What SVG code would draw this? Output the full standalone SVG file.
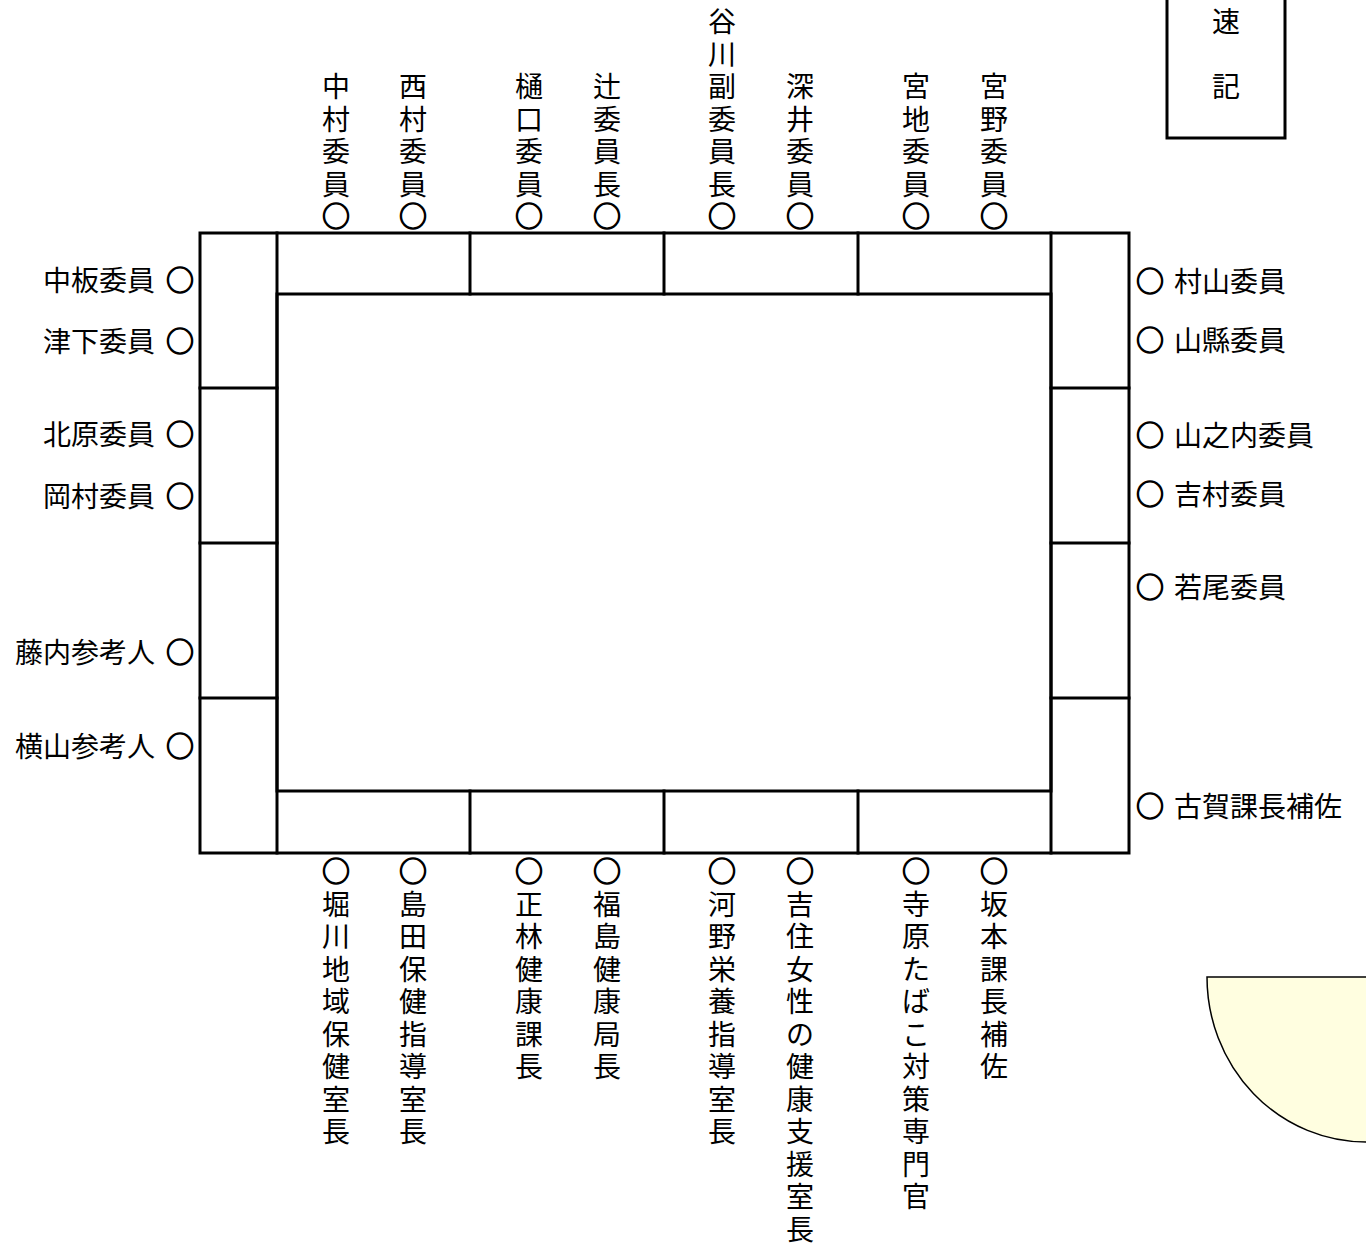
<svg xmlns="http://www.w3.org/2000/svg" width="1366" height="1245" viewBox="0 0 1366 1245">
<style>
text{font-family:"Noto Sans CJK JP","Noto Sans CJK SC",sans-serif;font-size:28px;fill:#000}
.v{text-anchor:middle}
.e{text-anchor:end}
.s{text-anchor:start}
.o{stroke:#000;stroke-width:1.2}
.ln{stroke:#000;stroke-width:3;fill:none;stroke-linecap:square}
</style>
<rect width="1366" height="1245" fill="#fff"/>
<g id="table" class="ln">
<rect x="200" y="233" width="929" height="620"/>
<rect x="277" y="294" width="774" height="497"/>
<line x1="277" y1="233" x2="277" y2="853"/>
<line x1="1051" y1="233" x2="1051" y2="853"/>
<line x1="470" y1="233" x2="470" y2="294"/>
<line x1="664" y1="233" x2="664" y2="294"/>
<line x1="858" y1="233" x2="858" y2="294"/>
<line x1="470" y1="791" x2="470" y2="853"/>
<line x1="664" y1="791" x2="664" y2="853"/>
<line x1="858" y1="791" x2="858" y2="853"/>
<line x1="200" y1="388" x2="277" y2="388"/>
<line x1="200" y1="543" x2="277" y2="543"/>
<line x1="200" y1="698" x2="277" y2="698"/>
<line x1="1051" y1="388" x2="1129" y2="388"/>
<line x1="1051" y1="543" x2="1129" y2="543"/>
<line x1="1051" y1="698" x2="1129" y2="698"/>
</g>
<g id="sokki">
<rect x="1167" y="-10" width="118" height="148" class="ln"/>
<text class="v" x="1226" y="32">速</text>
<text class="v" x="1226" y="97">記</text>
</g>
<g id="podium">
<path d="M1366,977 L1207,977 A159,165 0 0 0 1366,1142" fill="#FFFEE0" stroke="#000" stroke-width="1.5"/>
</g>
<g id="connectors"></g>
<!-- top row -->
<g id="p-nakamura"><text class="v" x="336" y="97"><tspan x="336">中</tspan><tspan x="336" dy="32.5">村</tspan><tspan x="336" dy="32.5">委</tspan><tspan x="336" dy="32.5">員</tspan><tspan x="336" dy="32.5" class="o">○</tspan></text></g>
<g id="p-nishimura"><text class="v" x="413" y="97"><tspan x="413">西</tspan><tspan x="413" dy="32.5">村</tspan><tspan x="413" dy="32.5">委</tspan><tspan x="413" dy="32.5">員</tspan><tspan x="413" dy="32.5" class="o">○</tspan></text></g>
<g id="p-higuchi"><text class="v" x="529" y="97"><tspan x="529">樋</tspan><tspan x="529" dy="32.5">口</tspan><tspan x="529" dy="32.5">委</tspan><tspan x="529" dy="32.5">員</tspan><tspan x="529" dy="32.5" class="o">○</tspan></text></g>
<g id="p-tsuji"><text class="v" x="607" y="97"><tspan x="607">辻</tspan><tspan x="607" dy="32.5">委</tspan><tspan x="607" dy="32.5">員</tspan><tspan x="607" dy="32.5">長</tspan><tspan x="607" dy="32.5" class="o">○</tspan></text></g>
<g id="p-tanigawa"><text class="v" x="722" y="32"><tspan x="722">谷</tspan><tspan x="722" dy="32.5">川</tspan><tspan x="722" dy="32.5">副</tspan><tspan x="722" dy="32.5">委</tspan><tspan x="722" dy="32.5">員</tspan><tspan x="722" dy="32.5">長</tspan><tspan x="722" dy="32.5" class="o">○</tspan></text></g>
<g id="p-fukai"><text class="v" x="800" y="97"><tspan x="800">深</tspan><tspan x="800" dy="32.5">井</tspan><tspan x="800" dy="32.5">委</tspan><tspan x="800" dy="32.5">員</tspan><tspan x="800" dy="32.5" class="o">○</tspan></text></g>
<g id="p-miyaji"><text class="v" x="916" y="97"><tspan x="916">宮</tspan><tspan x="916" dy="32.5">地</tspan><tspan x="916" dy="32.5">委</tspan><tspan x="916" dy="32.5">員</tspan><tspan x="916" dy="32.5" class="o">○</tspan></text></g>
<g id="p-miyano"><text class="v" x="994" y="97"><tspan x="994">宮</tspan><tspan x="994" dy="32.5">野</tspan><tspan x="994" dy="32.5">委</tspan><tspan x="994" dy="32.5">員</tspan><tspan x="994" dy="32.5" class="o">○</tspan></text></g>
<!-- left side -->
<g id="p-nakaita"><text class="e" x="155" y="291">中板委員</text><text class="e o" x="194" y="291">○</text></g>
<g id="p-tsushita"><text class="e" x="155" y="352">津下委員</text><text class="e o" x="194" y="352">○</text></g>
<g id="p-kitahara"><text class="e" x="155" y="445">北原委員</text><text class="e o" x="194" y="445">○</text></g>
<g id="p-okamura"><text class="e" x="155" y="507">岡村委員</text><text class="e o" x="194" y="507">○</text></g>
<g id="p-fujiuchi"><text class="e" x="155" y="663">藤内参考人</text><text class="e o" x="194" y="663">○</text></g>
<g id="p-yokoyama"><text class="e" x="155" y="757">横山参考人</text><text class="e o" x="194" y="757">○</text></g>
<!-- right side -->
<g id="p-murayama"><text class="s o" x="1136" y="292">○</text><text class="s" x="1174" y="292">村山委員</text></g>
<g id="p-yamagata"><text class="s o" x="1136" y="351">○</text><text class="s" x="1174" y="351">山縣委員</text></g>
<g id="p-yamanouchi"><text class="s o" x="1136" y="446">○</text><text class="s" x="1174" y="446">山之内委員</text></g>
<g id="p-yoshimura"><text class="s o" x="1136" y="505">○</text><text class="s" x="1174" y="505">吉村委員</text></g>
<g id="p-wakao"><text class="s o" x="1136" y="598">○</text><text class="s" x="1174" y="598">若尾委員</text></g>
<g id="p-koga"><text class="s o" x="1136" y="817">○</text><text class="s" x="1174" y="817">古賀課長補佐</text></g>
<!-- bottom row -->
<g id="p-horikawa"><text class="v" x="336" y="882"><tspan x="336" class="o">○</tspan><tspan x="336" dy="32.5">堀</tspan><tspan x="336" dy="32.5">川</tspan><tspan x="336" dy="32.5">地</tspan><tspan x="336" dy="32.5">域</tspan><tspan x="336" dy="32.5">保</tspan><tspan x="336" dy="32.5">健</tspan><tspan x="336" dy="32.5">室</tspan><tspan x="336" dy="32.5">長</tspan></text></g>
<g id="p-shimada"><text class="v" x="413" y="882"><tspan x="413" class="o">○</tspan><tspan x="413" dy="32.5">島</tspan><tspan x="413" dy="32.5">田</tspan><tspan x="413" dy="32.5">保</tspan><tspan x="413" dy="32.5">健</tspan><tspan x="413" dy="32.5">指</tspan><tspan x="413" dy="32.5">導</tspan><tspan x="413" dy="32.5">室</tspan><tspan x="413" dy="32.5">長</tspan></text></g>
<g id="p-shobayashi"><text class="v" x="529" y="882"><tspan x="529" class="o">○</tspan><tspan x="529" dy="32.5">正</tspan><tspan x="529" dy="32.5">林</tspan><tspan x="529" dy="32.5">健</tspan><tspan x="529" dy="32.5">康</tspan><tspan x="529" dy="32.5">課</tspan><tspan x="529" dy="32.5">長</tspan></text></g>
<g id="p-fukushima"><text class="v" x="607" y="882"><tspan x="607" class="o">○</tspan><tspan x="607" dy="32.5">福</tspan><tspan x="607" dy="32.5">島</tspan><tspan x="607" dy="32.5">健</tspan><tspan x="607" dy="32.5">康</tspan><tspan x="607" dy="32.5">局</tspan><tspan x="607" dy="32.5">長</tspan></text></g>
<g id="p-kono"><text class="v" x="722" y="882"><tspan x="722" class="o">○</tspan><tspan x="722" dy="32.5">河</tspan><tspan x="722" dy="32.5">野</tspan><tspan x="722" dy="32.5">栄</tspan><tspan x="722" dy="32.5">養</tspan><tspan x="722" dy="32.5">指</tspan><tspan x="722" dy="32.5">導</tspan><tspan x="722" dy="32.5">室</tspan><tspan x="722" dy="32.5">長</tspan></text></g>
<g id="p-yoshizumi"><text class="v" x="800" y="882"><tspan x="800" class="o">○</tspan><tspan x="800" dy="32.5">吉</tspan><tspan x="800" dy="32.5">住</tspan><tspan x="800" dy="32.5">女</tspan><tspan x="800" dy="32.5">性</tspan><tspan x="800" dy="32.5">の</tspan><tspan x="800" dy="32.5">健</tspan><tspan x="800" dy="32.5">康</tspan><tspan x="800" dy="32.5">支</tspan><tspan x="800" dy="32.5">援</tspan><tspan x="800" dy="32.5">室</tspan><tspan x="800" dy="32.5">長</tspan></text></g>
<g id="p-terahara"><text class="v" x="916" y="882"><tspan x="916" class="o">○</tspan><tspan x="916" dy="32.5">寺</tspan><tspan x="916" dy="32.5">原</tspan><tspan x="916" dy="32.5">た</tspan><tspan x="916" dy="32.5">ば</tspan><tspan x="916" dy="32.5">こ</tspan><tspan x="916" dy="32.5">対</tspan><tspan x="916" dy="32.5">策</tspan><tspan x="916" dy="32.5">専</tspan><tspan x="916" dy="32.5">門</tspan><tspan x="916" dy="32.5">官</tspan></text></g>
<g id="p-sakamoto"><text class="v" x="994" y="882"><tspan x="994" class="o">○</tspan><tspan x="994" dy="32.5">坂</tspan><tspan x="994" dy="32.5">本</tspan><tspan x="994" dy="32.5">課</tspan><tspan x="994" dy="32.5">長</tspan><tspan x="994" dy="32.5">補</tspan><tspan x="994" dy="32.5">佐</tspan></text></g>
</svg>
